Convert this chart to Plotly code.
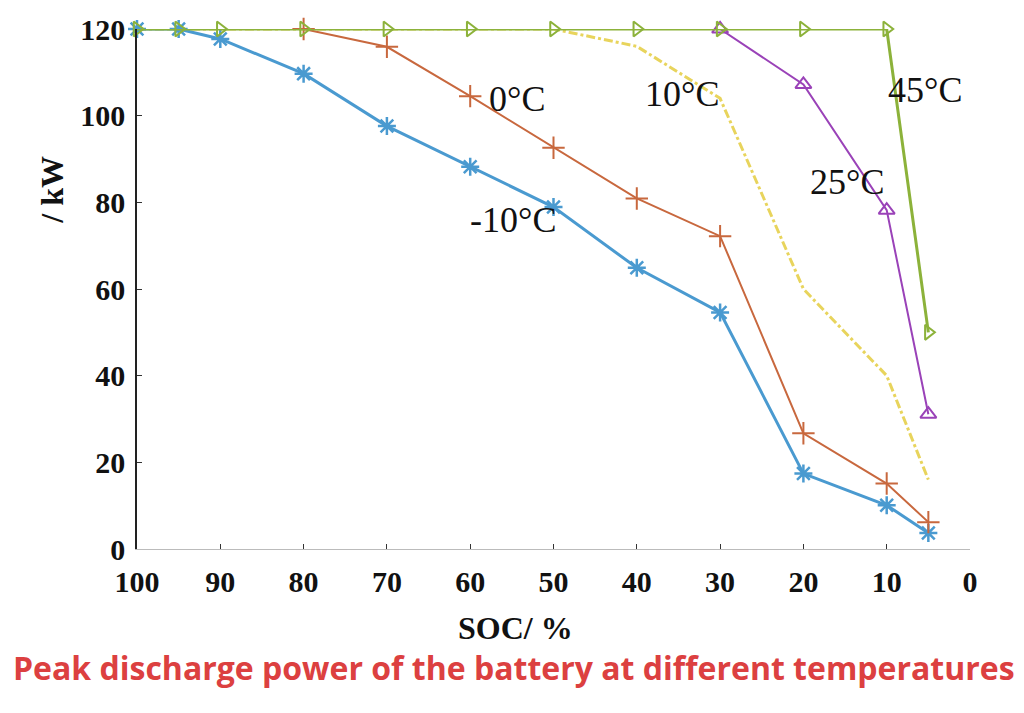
import plotly.graph_objects as go

soc = [100, 95, 90, 80, 70, 60, 50, 40, 30, 20, 10, 5]
p_m10 = [120, 120, 117.7, 109.7, 97.6, 88.2, 78.9, 64.9, 54.6, 17.4, 10.1, 3.7]
p_0 = [120, 120, 120, 120, 115.9, 104.5, 92.6, 80.9, 72.2, 26.7, 15.1, 6.2]
p_10 = [120, 120, 120, 120, 120, 120, 120, 116, 104, 60, 40, 16]
p_25 = [120, 120, 120, 120, 120, 120, 120, 120, 120, 107.2, 78.2, 31.1]
p_45 = [120, 120, 120, 120, 120, 120, 120, 120, 120, 120, 120, 50]

x_ticks = [100, 90, 80, 70, 60, 50, 40, 30, 20, 10, 0]
y_ticks = [0, 20, 40, 60, 80, 100, 120]

labels = ["-10°C", "0°C", "10°C", "25°C", "45°C"]
label_x = [54.9, 54.4, 34.6, 14.8, 5.4]
label_y = [75.9, 103.8, 104.9, 84.8, 106]

fig = go.Figure()

fig.add_trace(go.Scatter(
    x=soc, y=p_10, mode="lines",
    line=dict(color="#e8d45c", width=3, dash="dashdot"),
    cliponaxis=False, showlegend=False))
fig.add_trace(go.Scatter(
    x=soc, y=p_m10, mode="lines+markers",
    line=dict(color="#4a9ad0", width=3),
    marker=dict(symbol="asterisk-open", size=15, line=dict(color="#1f6cb0", width=2.5)),
    cliponaxis=False, showlegend=False))
fig.add_trace(go.Scatter(
    x=soc[3:], y=p_0[3:], mode="lines+markers",
    line=dict(color="#c8683e", width=2),
    marker=dict(symbol="cross-thin-open", size=16, line=dict(color="#ee5f25", width=2)),
    cliponaxis=False, showlegend=False))
fig.add_trace(go.Scatter(
    x=soc[8:], y=p_25[8:], mode="lines+markers",
    line=dict(color="#9a42b8", width=2),
    marker=dict(symbol="triangle-up-open", size=14, line=dict(color="#8a2fa8", width=2)),
    cliponaxis=False, showlegend=False))
fig.add_trace(go.Scatter(
    x=soc, y=p_45, mode="lines+markers",
    line=dict(color="#8cb23a", width=3),
    marker=dict(symbol="triangle-right-open", size=13, line=dict(color="#9abd40", width=2)),
    cliponaxis=False, showlegend=False))

for t, lx, ly in zip(labels, label_x, label_y):
    fig.add_annotation(x=lx, y=ly, text=t, showarrow=False,
                       xanchor="center", yanchor="middle",
                       font=dict(family="Liberation Serif", size=36, color="#111111"))

fig.add_annotation(xref="paper", yref="paper", x=0.454, y=0, yshift=-79,
                   xanchor="center", yanchor="middle",
                   text="<b>SOC/ %</b>", showarrow=False,
                   font=dict(family="Liberation Serif", size=32, color="#111111"))
fig.add_annotation(xref="paper", yref="paper", x=0, y=0.691, xshift=-85,
                   xanchor="center", yanchor="middle",
                   text="<b>/ kW</b>", textangle=-90, showarrow=False,
                   font=dict(family="Liberation Serif", size=32, color="#111111"))
fig.add_annotation(xref="paper", yref="paper", x=0.453, y=0, yshift=-118,
                   xanchor="center", yanchor="middle",
                   text="<b>Peak discharge power of the battery at different temperatures</b>",
                   showarrow=False,
                   font=dict(family="Open Sans", size=32, color="#dc4040"))

fig.update_xaxes(range=[100, 0], tickvals=x_ticks, ticktext=[str(v) for v in x_ticks],
                 showgrid=False, zeroline=False, showline=True, linecolor="#bbbbbb",
                 linewidth=1, ticks="inside", ticklen=5, tickcolor="#333333",
                 tickfont=dict(family="Liberation Serif", size=30, color="#111111", weight="bold"),
                 ticklabelstandoff=6)
fig.update_yaxes(range=[0, 120], tickvals=y_ticks, ticktext=[str(v) for v in y_ticks],
                 showgrid=False, zeroline=False, showline=True, linecolor="#222222",
                 linewidth=1.5, ticks="inside", ticklen=5, tickcolor="#333333",
                 tickfont=dict(family="Liberation Serif", size=30, color="#111111", weight="bold"),
                 ticklabelstandoff=4)

fig.update_layout(width=1024, height=713, margin=dict(l=137, r=54, t=24, b=164),
                  paper_bgcolor="white", plot_bgcolor="white")

fig.write_html("out.html")
